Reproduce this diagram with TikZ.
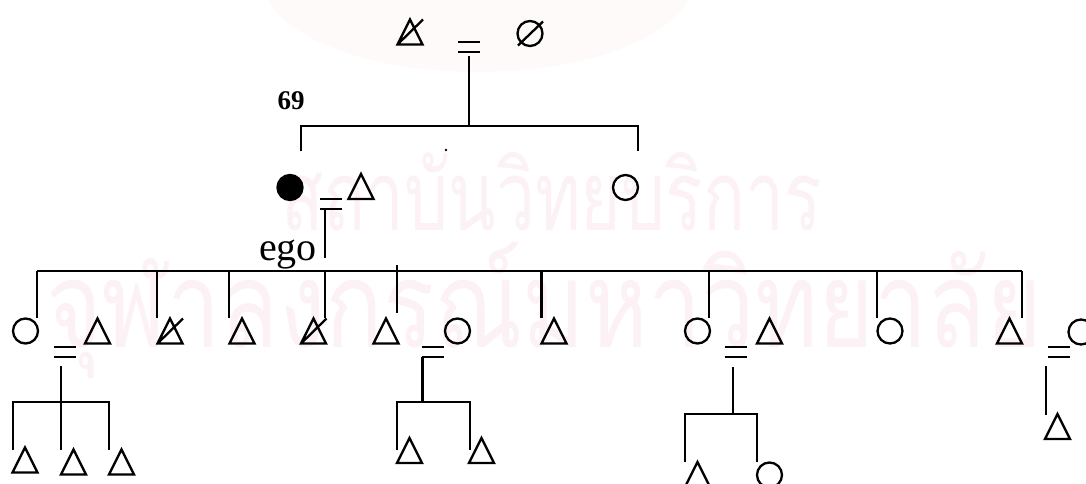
\documentclass[tikz,border=0pt]{standalone}
\usepackage{fontspec}
\setmainfont{Liberation Serif}
\newfontfamily\thaifont[Script=Thai]{Loma}
\usepackage{tikz}
\usetikzlibrary{positioning}

\definecolor{markpink}{RGB}{252,241,245}
\definecolor{sealpink}{RGB}{254,250,250}

\begin{document}
\begin{tikzpicture}[
  x=1pt, y=-1pt,
  line width=2.3pt,
  female/.style={draw, circle, minimum size=25pt, inner sep=0pt},
  filled/.style={female, fill},
  male/.pic={\draw (-12.5,12.5) -- (0,-12.5) -- (12.5,12.5) -- cycle;},
  deadmale/.pic={\draw (-12.5,12.5) -- (0,-12.5) -- (12.5,12.5) -- cycle (-12.5,12.5) -- (13,-12.5);},
  deadfemale/.pic={\draw (0,0) circle (12.5pt) (-12,12) -- (13,-12);},
  marry/.pic={\draw (-11,-5) -- (11,-5) (-11,5) -- (11,5);},
  wmtext/.style={inner sep=0pt, text=markpink}
]
\useasboundingbox (0,0) rectangle (1086,484);

% watermark
\fill[sealpink] (478,-20) ellipse (215pt and 92pt);
\node[wmtext, anchor=base west] (markA) at (280,230)
  {\scalebox{1}[1.4]{\resizebox{540pt}{!}{\thaifont สถาบันวิทยบริการ}}};
\node[wmtext, anchor=base west] (markB) at (45,347)
  {\scalebox{1}[1.26]{\resizebox{995pt}{!}{\thaifont จุฬาลงกรณ์มหาวิทยาลัย}}};

% first generation
\pic (gpa) at (410,32) {deadmale};
\pic (wed1) at (469,47) {marry};
\pic (gma) at (530,33.5) {deadfemale};
\draw (469,56) -- (469,126);
\draw (301,151) -- (301,126) -- (638,126) -- (638,151);
\node[font=\bfseries\fontsize{27}{27}\selectfont] (num) at (291,101) {69};
\node[circle, fill, inner sep=0pt, minimum size=2.6pt] (dot) at (446,150) {};

% second generation
\node[filled] (mom) at (290,187.5) {};
\pic (wed2) at (331,204) {marry};
\pic (dad) at (361,186.5) {male};
\node[female] (aunt) at (625.5,187.5) {};
\draw (325,209) -- (325,258);
\node[inner sep=0pt, anchor=base east, font=\fontsize{40}{40}\selectfont] (egolbl) at (318,260) {ego};

% ego's siblings
\draw (37,271) -- (1022,271);
\draw (37,271) -- (37,318);
\draw (157,271) -- (157,318);
\draw (229,271) -- (229,318);
\draw (325,271) -- (325,318);
\draw (397,265) -- (397,313);
\draw (541.5,271) -- (541.5,318);
\draw (709,271) -- (709,318);
\draw (877,271) -- (877,318);
\draw (1022,271) -- (1022,318);

\node[female] (sibA) at (25.5,331) {};
\pic (sibAh) at (97.5,331) {male};
\pic (sibB) at (170,331) {deadmale};
\pic (sibC) at (242,331) {male};
\pic (sibD) at (313.5,331) {deadmale};
\pic (sibE) at (386,331) {male};
\node[female] (sibEw) at (457.5,331) {};
\pic (sibF) at (554,331) {male};
\node[female] (sibG) at (697.5,331) {};
\pic (sibGh) at (769.5,331) {male};
\node[female] (sibH) at (890,331) {};
\pic (sibI) at (1009.5,331) {male};
\node[female] (sibIw) at (1081,332) {};

\pic (wed3) at (65,352) {marry};
\pic (wed4) at (432.5,352) {marry};
\pic (wed5) at (735.5,352) {marry};
\pic (wed6) at (1059,352) {marry};

% next generation
\draw (61,366) -- (61,450);
\draw (13,450) -- (13,402) -- (109,402) -- (109,450);
\pic (kidA1) at (25,460) {male};
\pic (kidA2) at (73.5,462) {male};
\pic (kidA3) at (121.5,462) {male};

\draw (422.5,357) -- (422.5,402);
\draw (397,450) -- (397,402) -- (470,402) -- (470,450);
\pic (kidE1) at (409.5,450.5) {male};
\pic (kidE2) at (481.5,450.5) {male};

\draw (733,367) -- (733,414);
\draw (685,462) -- (685,414) -- (757,414) -- (757,462);
\pic (kidG1) at (697.5,474.5) {male};
\node[female] (kidG2) at (769.5,475) {};

\draw (1046,366) -- (1046,415);
\pic (kidI1) at (1057.5,426.5) {male};
\end{tikzpicture}
\end{document}
